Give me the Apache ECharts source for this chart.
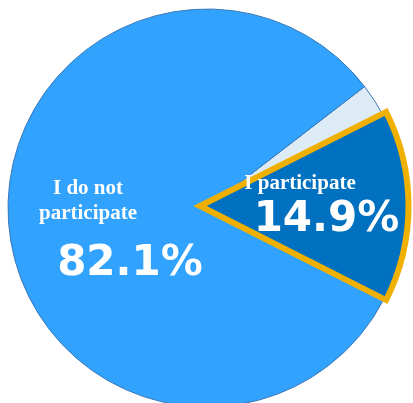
<!DOCTYPE html>
<html>
<head>
<meta charset="utf-8">
<script src="https://cdn.jsdelivr.net/npm/echarts@6/dist/echarts.min.js"></script>
<style>
  html, body { margin: 0; padding: 0; background: #fff; }
  #chart { width: 413px; height: 403px; }
</style>
</head>
<body>
<div id="chart"></div>
<script>
// slices, in drawing order (counter-clockwise from the right)
var categories = ['I participate', 'No answer', 'I do not participate'];
var shares = [14.9, 3.0, 82.1];
var nameLabels = ['I participate', '', 'I do not\nparticipate'];
var sliceColors = ['#0070C0', '#DDEBF7', '#31A3FF'];

var total = shares.reduce(function (a, b) { return a + b; }, 0);
var startAngle = -shares[0] / total * 180;

function labelText(i, valueStyle) {
  var lines = nameLabels[i].split('\n').map(function (s) { return '{n|' + s + '}'; });
  return lines.join('\n') + '\n{' + valueStyle + '|' + shares[i].toFixed(1) + '%}';
}

var nameStyle = { fontFamily: 'Liberation Serif', fontWeight: 'bold', fontSize: 21, lineHeight: 25, color: '#fff' };
var valueFont = { fontFamily: 'DejaVu Sans', fontWeight: 'bold', fontSize: 42, color: '#fff' };

var chart = echarts.init(document.getElementById('chart'), null, { renderer: 'canvas' });

// base disc
var baseData = categories.map(function (c, i) {
  var item = { name: c, value: shares[i], itemStyle: { color: sliceColors[i] }, label: { show: false } };
  if (i === 2) {
    item.label = {
      show: true,
      formatter: labelText(i, 'v'),
      rich: {
        n: nameStyle,
        v: Object.assign({ lineHeight: 76, padding: [0, 0, 0, 84] }, valueFont)
      }
    };
  }
  return item;
});

// the highlighted slice, drawn a bit larger with a gold outline
var topData = categories.map(function (c, i) {
  if (i !== 0) {
    return { name: c, value: shares[i], itemStyle: { color: 'transparent', borderWidth: 0 }, label: { show: false } };
  }
  return {
    name: c, value: shares[i],
    itemStyle: { color: sliceColors[i], borderColor: '#F0B000', borderWidth: 6, borderJoin: 'miter' },
    label: {
      show: true,
      formatter: labelText(i, 'v'),
      rich: {
        n: nameStyle,
        v: Object.assign({ lineHeight: 49, padding: [0, 0, 0, 53] }, valueFont)
      }
    }
  };
});

var option = {
  animation: false,
  series: [
    {
      type: 'pie',
      center: [207, 208],
      radius: 199,
      startAngle: startAngle,
      clockwise: false,
      avoidLabelOverlap: false,
      silent: true,
      itemStyle: { borderColor: '#3A78B8', borderWidth: 1 },
      label: { position: 'inside' },
      labelLine: { show: false },
      labelLayout: function (p) {
        return { x: 88, y: 176.5, align: 'center', verticalAlign: 'top' };
      },
      data: baseData
    },
    {
      type: 'pie',
      center: [200, 206],
      radius: 208.5,
      startAngle: startAngle,
      clockwise: false,
      avoidLabelOverlap: false,
      silent: true,
      label: { position: 'inside' },
      labelLine: { show: false },
      labelLayout: function (p) {
        return { x: 300, y: 171, align: 'center', verticalAlign: 'top' };
      },
      data: topData
    }
  ]
};

chart.setOption(option);
</script>
</body>
</html>
